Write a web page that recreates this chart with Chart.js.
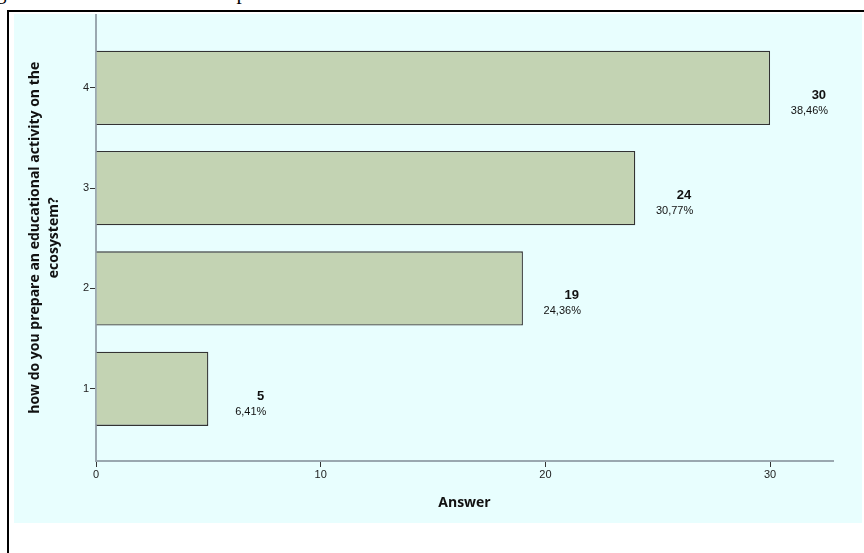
<!DOCTYPE html>
<html>
<head>
<meta charset="utf-8">
<script src="https://cdn.jsdelivr.net/npm/chart.js@4.4.0/dist/chart.umd.min.js"></script>
<style>
  body { margin:0; background:#fff; width:864px; height:553px; overflow:hidden; position:relative; }
  #cap { position:absolute; left:-4px; top:-20px; font:21px "Liberation Serif", serif; color:#000; white-space:nowrap; }
  #frame { position:absolute; left:7px; top:10px; width:880px; height:600px; border:2px solid #000; box-sizing:border-box; }
  #bg { position:absolute; left:14px; top:14px; width:848px; height:509px; background:#e8fefe; }
  #wrap { position:absolute; left:14px; top:7px; width:848px; height:516px; }
</style>
</head>
<body>
<div id="cap">g their students' initial conceptions.</div>
<div id="frame"></div>
<div id="bg"></div>
<div id="wrap"><canvas id="barChart"></canvas></div>
<script>
// categories (answer codes) and counts
var categories = [4, 3, 2, 1]
var counts     = [30, 24, 19, 5]
var percents   = ['38,46%', '30,77%', '24,36%', '6,41%']
var xTicks     = [0, 10, 20, 30]

var points = []
for (var i = 0; i < categories.length; i++) {
  points.push({ x: counts[i], y: categories[i] })
}

// count + percent next to each bar
var barLabels = {
  id: 'barLabels',
  afterDatasetsDraw: function(chart) {
    var ctx = chart.ctx
    var meta = chart.getDatasetMeta(0)
    ctx.save()
    ctx.textAlign = 'right'
    ctx.fillStyle = '#111'
    meta.data.forEach(function(bar, i) {
      var rx = bar.x + 58
      ctx.font = 'bold 13px "Liberation Sans", Arial, sans-serif'
      ctx.fillText(String(counts[i]), rx - 2, bar.y + 11)
      ctx.font = '11px "Liberation Sans", Arial, sans-serif'
      ctx.fillText(percents[i], rx, bar.y + 26)
    })
    ctx.restore()
  }
}

var barChartCanvas = document.getElementById('barChart').getContext('2d')
var barChart = new Chart(barChartCanvas, {
  type: 'bar',
  data: {
    datasets: [{
      label: 'Answer',
      data: points,
      backgroundColor: '#c3d3b3',
      borderColor: '#333',
      borderWidth: 1.3,
      barPercentage: 0.74,
      categoryPercentage: 1
    }]
  },
  options: {
    indexAxis: 'y',
    responsive: true,
    maintainAspectRatio: false,
    animation: false,
    layout: { padding: { top: 1, right: 29, left: 0, bottom: 0 } },
    plugins: { legend: { display: false }, tooltip: { enabled: false } },
    scales: {
      x: {
        type: 'linear',
        min: 0,
        max: 32.8,
        afterBuildTicks: function(scale) { scale.ticks = xTicks.map(function(v) { return { value: v } }) },
        afterFit: function(scale) { scale.height = 62 },
        border: { display: true, color: '#9aa8b0', width: 2 },
        grid: { drawOnChartArea: false, drawTicks: true, tickLength: 6, color: '#333', tickWidth: 1 },
        ticks: { color: '#222', font: { size: 11, family: '"Liberation Sans", Arial, sans-serif' }, padding: 1, maxRotation: 0 },
        title: { display: true, text: 'Answer', color: '#111', font: { size: 14, weight: 'bold', family: '"Open Sans", "Liberation Sans", sans-serif' }, padding: { top: 4, bottom: 12 } }
      },
      y: {
        type: 'linear',
        offset: false,
        min: 0.28,
        max: 4.73,
        afterBuildTicks: function(scale) { scale.ticks = categories.map(function(v) { return { value: v } }) },
        afterFit: function(scale) { scale.width = 82 },
        border: { display: true, color: '#9aa8b0', width: 2 },
        grid: { offset: false, drawOnChartArea: false, drawTicks: true, tickLength: 6, color: '#333', tickWidth: 1 },
        ticks: { color: '#222', font: { size: 11, family: '"Liberation Sans", Arial, sans-serif' }, padding: 1 },
        title: {
          display: true,
          text: ['how do you prepare an educational activity on the', 'ecosystem?'],
          color: '#111',
          font: { size: 14, weight: 'bold', family: '"Open Sans", "Liberation Sans", sans-serif', lineHeight: 1.35 },
          padding: { top: 12, bottom: 0 }
        }
      }
    }
  },
  plugins: [barLabels]
})
</script>
</body>
</html>
